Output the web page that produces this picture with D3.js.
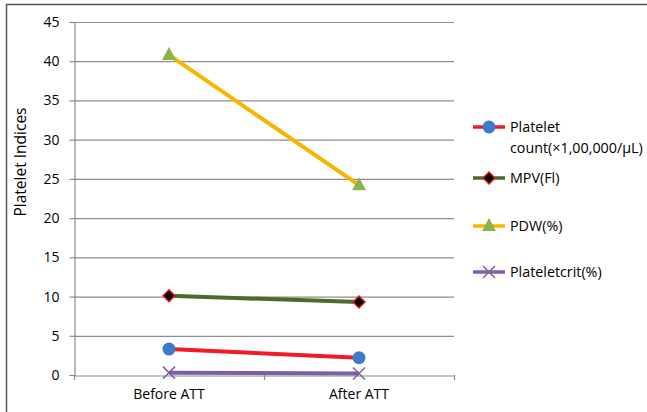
<!DOCTYPE html>
<html><head><meta charset="utf-8">
<script src="https://cdn.jsdelivr.net/npm/d3@7"></script>
<style>body{margin:0;background:#fff}svg{display:block}text{font-family:"Open Sans",sans-serif;fill:#000}</style>
</head><body><svg id="c" width="647" height="412"></svg>
<script>
const categories = ["Before ATT", "After ATT"];
const seriesNames = ["Platelet count(×1,00,000/µL)", "MPV(Fl)", "PDW(%)", "Plateletcrit(%)"];
const plateletCount = [3.3, 2.2];
const mpv = [10.1, 9.3];
const pdw = [40.8, 24.2];
const plateletcrit = [0.3, 0.2];
const yTicks = [0, 5, 10, 15, 20, 25, 30, 35, 40, 45];

(function () {
const series = [
  {name: seriesNames[0], values: plateletCount, line: "#ee1c24", marker: "circle", fill: "#3d7cc9", stroke: "none"},
  {name: seriesNames[1], values: mpv, line: "#4a6b2a", marker: "diamond", fill: "#000", stroke: "#e0201c"},
  {name: seriesNames[2], values: pdw, line: "#f7b500", marker: "triangle", fill: "#8cb347", stroke: "none"},
  {name: seriesNames[3], values: plateletcrit, line: "#7f5ea8", marker: "x", fill: "none", stroke: "#7f5ea8"}
];

const svg = d3.select("#c");
svg.append("path").attr("d", "M6.5,412 L6.5,4.5 L647,4.5").attr("fill", "none").attr("stroke", "#555").attr("stroke-width", 1.5);

const mLeft = 74, mRight = 454, mTop = 22, mBottom = 375;
const x = d3.scaleBand().domain(categories).range([mLeft, mRight]);
const y = d3.scaleLinear().domain([0, 45]).range([mBottom, mTop]);

svg.append("g").selectAll("line").data(yTicks.filter(d => d > 0)).join("line")
  .attr("x1", mLeft).attr("x2", mRight).attr("y1", d => y(d) + 0.5).attr("y2", d => y(d) + 0.5)
  .attr("stroke", "#8c8c8c").attr("stroke-width", 1.2);

const ya = svg.append("g").attr("transform", `translate(${mLeft + 0.5},0)`)
  .call(d3.axisLeft(y).tickValues(yTicks).tickSize(5).tickPadding(10));
ya.select(".domain").attr("stroke", "#8c8c8c").attr("stroke-width", 1.2);
ya.selectAll(".tick line").attr("stroke", "#8c8c8c").attr("stroke-width", 1.2);
ya.selectAll("text").style("font-size", "14px").attr("font-family", null);

const xa = svg.append("g").attr("transform", `translate(0,${mBottom + 0.5})`)
  .call(d3.axisBottom(x).tickSize(0).tickPadding(14));
xa.select(".domain").attr("stroke", "#8c8c8c").attr("stroke-width", 1.2);
xa.selectAll("text").style("font-size", "14px").attr("font-family", null);
const bounds = [mLeft, mLeft + x.step(), mRight];
svg.append("g").selectAll("line").data(bounds).join("line")
  .attr("x1", d => d + 0.5).attr("x2", d => d + 0.5).attr("y1", mBottom).attr("y2", mBottom + 5)
  .attr("stroke", "#8c8c8c").attr("stroke-width", 1.2);

svg.append("text").attr("transform", `translate(26,162) rotate(-90)`)
  .attr("text-anchor", "middle").style("font-size", "15.5px").text("Platelet Indices");

const cx = c => x(c) + x.bandwidth() / 2;

function drawMarker(g, s, px, py) {
  if (s.marker === "circle") {
    g.append("circle").attr("cx", px).attr("cy", py).attr("r", 6.5).attr("fill", s.fill);
  } else if (s.marker === "diamond") {
    g.append("path").attr("d", `M${px},${py-6} L${px+6},${py} L${px},${py+6} L${px-6},${py} Z`)
      .attr("fill", s.fill).attr("stroke", s.stroke).attr("stroke-width", 1.5);
  } else if (s.marker === "triangle") {
    g.append("path").attr("d", `M${px},${py-8} L${px+7},${py+5} L${px-7},${py+5} Z`).attr("fill", s.fill);
  } else {
    g.append("path").attr("d", `M${px-6},${py-6} L${px+6},${py+6} M${px+6},${py-6} L${px-6},${py+6}`)
      .attr("stroke", s.stroke).attr("stroke-width", 1.5);
  }
}

const line = d3.line().x((d, i) => cx(categories[i])).y(d => y(d));
[3, 0, 1, 2].forEach(k => {
  const s = series[k];
  const g = svg.append("g");
  g.append("path").attr("d", line(s.values)).attr("fill", "none").attr("stroke", s.line).attr("stroke-width", 4);
  s.values.forEach((v, i) => drawMarker(g, s, cx(categories[i]), y(v)));
});

const legY = [127, 178, 226, 272];
series.forEach((s, k) => {
  const g = svg.append("g");
  const ly = legY[k];
  g.append("line").attr("x1", 473).attr("x2", 505).attr("y1", ly).attr("y2", ly).attr("stroke", s.line).attr("stroke-width", 3.5);
  drawMarker(g, s, 489, ly);
  if (k === 0) {
    const t = g.append("text").attr("x", 510).attr("y", ly + 5).style("font-size", "14.3px");
    t.append("tspan").attr("x", 510).text("Platelet");
    t.append("tspan").attr("x", 510).attr("dy", 21).text("count(×1,00,000/µL)");
  } else {
    g.append("text").attr("x", 510).attr("y", ly + 5).style("font-size", "14.3px").text(s.name);
  }
});
})();
</script></body></html>
